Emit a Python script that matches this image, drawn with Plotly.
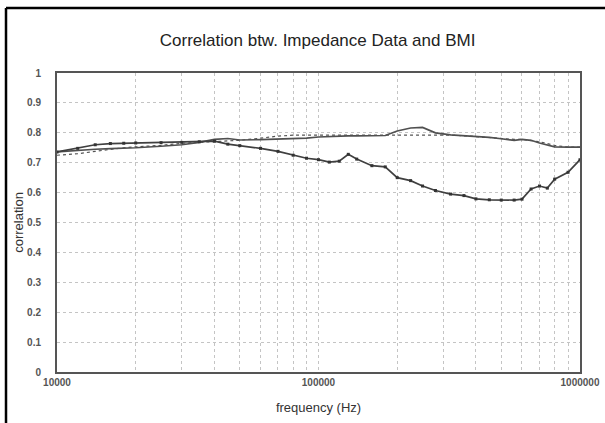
import plotly.graph_objects as go

# Frequencies (Hz)
freq = [10000, 12000, 14000, 16000, 18000, 20000, 25000, 30000, 35000, 40000,
        45000, 50000, 60000, 70000, 80000, 90000, 100000, 110000, 120000, 130000,
        140000, 160000, 180000, 200000, 225000, 250000, 280000, 320000, 360000,
        400000, 450000, 500000, 560000, 600000, 650000, 700000, 750000, 800000,
        900000, 1000000]

# Series with markers (drops to ~0.58 then recovers)
corr_marker = [0.736, 0.748, 0.760, 0.764, 0.765, 0.766, 0.767, 0.768, 0.770, 0.772,
               0.762, 0.757, 0.748, 0.738, 0.725, 0.715, 0.710, 0.702, 0.705, 0.728,
               0.712, 0.690, 0.686, 0.650, 0.640, 0.622, 0.607, 0.595, 0.590,
               0.579, 0.576, 0.575, 0.575, 0.578, 0.612, 0.622, 0.615, 0.645,
               0.668, 0.710]

# Solid upper series
corr_solid = [0.736, 0.742, 0.745, 0.747, 0.748, 0.750, 0.755, 0.760, 0.768, 0.778,
              0.781, 0.776, 0.777, 0.779, 0.780, 0.782, 0.786, 0.788, 0.789, 0.790,
              0.790, 0.790, 0.791, 0.806, 0.816, 0.818, 0.800, 0.793, 0.791,
              0.789, 0.785, 0.780, 0.775, 0.778, 0.775, 0.766, 0.760, 0.753,
              0.752, 0.752]

# Dotted upper series
corr_dotted = [0.725, 0.730, 0.738, 0.745, 0.750, 0.753, 0.758, 0.765, 0.768, 0.771,
               0.773, 0.775, 0.782, 0.789, 0.792, 0.792, 0.792, 0.792, 0.792, 0.792,
               0.792, 0.792, 0.793, 0.793, 0.794, 0.794, 0.794, 0.792, 0.790,
               0.787, 0.784, 0.780, 0.778, 0.778, 0.775, 0.770, 0.764, 0.758,
               0.752, 0.752]

# Vertical grid positions and labels (labels only at decades)
x_grid = [10000, 20000, 30000, 40000, 50000, 60000, 70000, 80000, 90000,
          100000, 200000, 300000, 400000, 500000, 600000, 700000, 800000, 900000,
          1000000]
x_tick_labels = ["<b>10000</b>", "", "", "", "", "", "", "", "",
                 "<b>100000</b>", "", "", "", "", "", "", "", "",
                 "<b>1000000</b>"]
y_ticks = [0, 0.1, 0.2, 0.3, 0.4, 0.5, 0.6, 0.7, 0.8, 0.9, 1]
y_tick_labels = ["<b>0</b>", "<b>0.1</b>", "<b>0.2</b>", "<b>0.3</b>", "<b>0.4</b>",
                 "<b>0.5</b>", "<b>0.6</b>", "<b>0.7</b>", "<b>0.8</b>", "<b>0.9</b>",
                 "<b>1</b>"]

fig = go.Figure()
fig.add_trace(go.Scatter(x=freq, y=corr_dotted, mode="lines",
                         line=dict(color="#555555", width=1.2, dash="dot"),
                         showlegend=False))
fig.add_trace(go.Scatter(x=freq, y=corr_solid, mode="lines",
                         line=dict(color="#505050", width=1.7),
                         showlegend=False))
fig.add_trace(go.Scatter(x=freq, y=corr_marker, mode="lines+markers",
                         line=dict(color="#404040", width=1.7),
                         marker=dict(symbol="square", size=3, color="#333333"),
                         showlegend=False))

grid_col = "#c4c4c4"
fig.update_xaxes(type="log", range=[4, 6], tickmode="array",
                 tickvals=x_grid, ticktext=x_tick_labels,
                 showgrid=True, gridcolor=grid_col, griddash="dot", gridwidth=1,
                 showline=True, linecolor="#555555", linewidth=2, mirror=True,
                 ticks="", automargin=False,
                 tickfont=dict(size=10, color="#555555", family="Liberation Sans"),
                 title=dict(text="frequency (Hz)", standoff=16,
                            font=dict(size=13, color="#333333")),
                 zeroline=False)
fig.update_yaxes(range=[0, 1], tickmode="array", tickvals=y_ticks,
                 ticktext=y_tick_labels,
                 showgrid=True, gridcolor=grid_col, griddash="dot", gridwidth=1,
                 showline=True, linecolor="#555555", linewidth=2, mirror=True,
                 ticks="outside", ticklen=12, tickcolor="rgba(0,0,0,0)",
                 automargin=False,
                 tickfont=dict(size=10, color="#555555", family="Liberation Sans"),
                 title=dict(text="correlation", standoff=1,
                            font=dict(size=13, color="#333333")),
                 zeroline=False)

# outer frame (top and left black edges)
fig.add_shape(type="line", xref="paper", yref="paper",
              x0=-0.0975, x1=1.2, y0=1.217, y1=1.217,
              line=dict(color="black", width=2.5))
fig.add_shape(type="line", xref="paper", yref="paper",
              x0=-0.0975, x1=-0.0975, y0=1.217, y1=-0.3,
              line=dict(color="black", width=2.5))

fig.update_layout(
    width=605, height=423,
    margin=dict(l=57, r=25, t=73, b=51),
    paper_bgcolor="white", plot_bgcolor="white",
    font=dict(family="Liberation Sans", color="#222222"),
    title=dict(text="Correlation btw. Impedance Data and BMI",
               x=0.525, xanchor="center", y=0.905, yanchor="middle",
               font=dict(size=17, color="#222222")),
)

fig.write_html("out.html", config={"displayModeBar": False},
               post_script="document.body.style.margin='0px';")
